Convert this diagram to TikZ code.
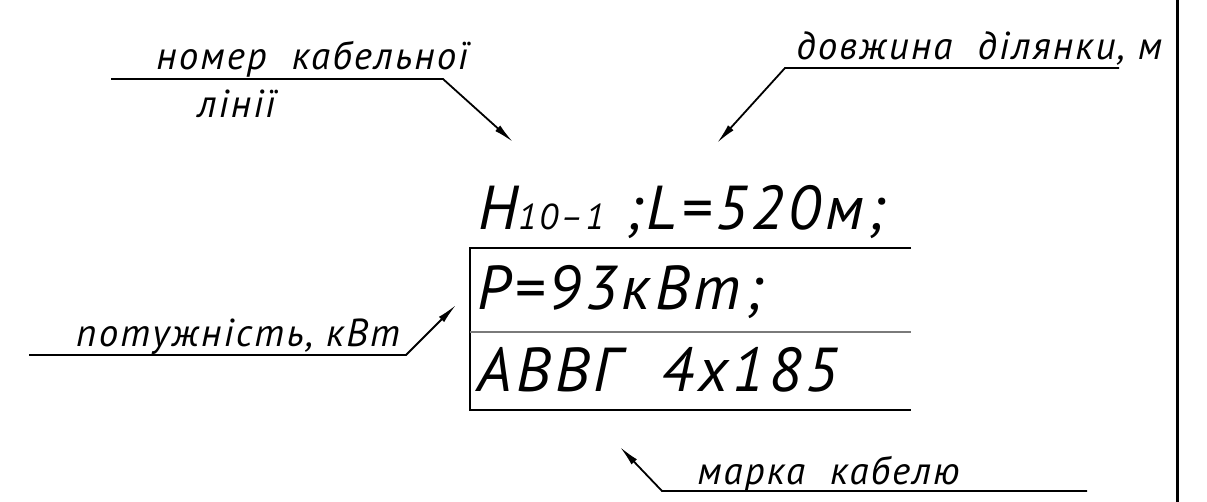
\documentclass[tikz,border=0pt]{standalone}
\usepackage{fontspec}
\setmainfont{PT Sans}
\newfontfamily\cbfont[LetterSpace=7]{PT Sans}
\newfontfamily\cbnotefont[LetterSpace=5.5]{PT Sans}
\usepackage{tikz}
\usetikzlibrary{
  arrows.meta,
  positioning,
  calc
}
\definecolor{cbInk}{HTML}{000000}
\definecolor{cbRule}{HTML}{7A7A7A}
\tikzset{
  cbnote/.style={font=\cbnotefont\fontsize{19.5}{22}\selectfont\itshape, inner sep=0pt, anchor=base west},
  cbmark/.style={font=\cbfont\fontsize{31}{36}\selectfont\itshape, inner sep=0pt, anchor=base west},
  leader/.style={line width=0.9pt, draw=cbInk},
  pointer/.style={leader, -{Latex[length=3.6mm, width=1.3mm]}},
  cell/.style={line width=0.7pt, draw=cbInk},
  cellmid/.style={line width=0.7pt, draw=cbRule},
  border/.style={line width=1.5pt, draw=cbInk}
}
\newcommand{\cbsub}[1]{{\fontsize{18}{20}\selectfont #1}}

\begin{document}
\begin{tikzpicture}[x=0.5pt, y=-0.5pt]
  \useasboundingbox (0,0) rectangle (1207,502);

  \node[cbnote] (num) at (156,70) {номер\ \ кабельної};
  \node[cbnote] (numb) at (197,118) {лінії};
  \node[cbnote] (len) at (796,60) {довжина\ \ ділянки,\ м};
  \node[cbnote] (pow) at (76,347) {потужність,\ кВт};
  \node[cbnote] (brand) at (697,485) {марка\ \ кабелю};

  \node[cbmark] (id) at (478,230) {Н\cbsub{10–1}\ ;L=520м;};
  \node[cbmark] (pw) at (477,310) {P=93кВт;};
  \node[cbmark] (cab) at (477,392) {АВВГ\ \ 4х185};

  \coordinate (rowA) at (470,248);
  \coordinate (rowAe) at (911,248);
  \coordinate (rowB) at (470,332);
  \coordinate (rowBe) at (911,332);
  \coordinate (rowC) at (470,410);
  \coordinate (rowCe) at (911,410);
  \draw[cell] (rowAe) -- (rowA) -- (rowC) -- (rowCe);
  \draw[cellmid] (rowB) -- (rowBe);

  \coordinate (numL) at (111,79);
  \coordinate (numR) at (443,79);
  \coordinate (numTip) at (513,142);
  \draw[pointer] (numL) -- (numR) -- (numTip);

  \coordinate (lenR) at (1119,68);
  \coordinate (lenL) at (785,68);
  \coordinate (lenTip) at (717,143);
  \draw[pointer] (lenR) -- (lenL) -- (lenTip);

  \coordinate (powL) at (29,355);
  \coordinate (powR) at (406,355);
  \coordinate (powTip) at (456,305);
  \draw[pointer] (powL) -- (powR) -- (powTip);

  \coordinate (brandR) at (1087,491);
  \coordinate (brandL) at (662,491);
  \coordinate (brandTip) at (620,447);
  \draw[pointer] (brandR) -- (brandL) -- (brandTip);

  \coordinate (frameT) at (1177,0);
  \coordinate (frameB) at (1177,502);
  \draw[border] (frameT) -- (frameB);
\end{tikzpicture}
\end{document}
